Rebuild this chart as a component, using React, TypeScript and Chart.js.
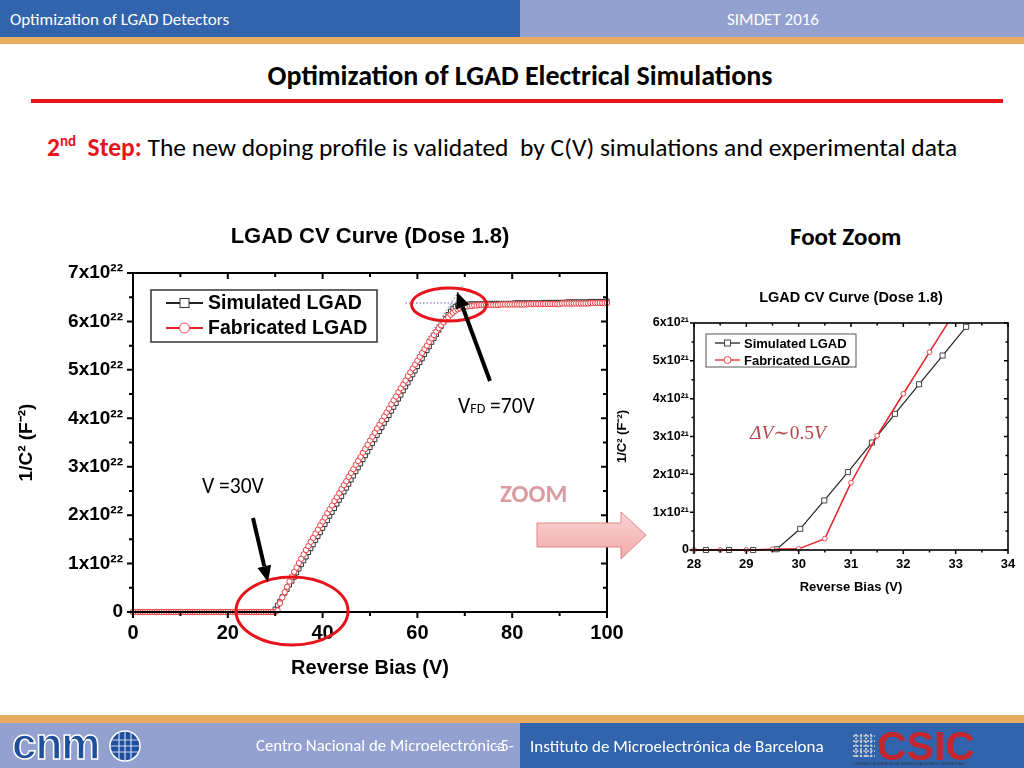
import React, { useEffect, useRef } from 'react';
import { Chart, registerables } from 'chart.js';

Chart.register(...registerables);

// ---------------- Main chart data: 1/C^2 in units of 1e22 F^-2 ----------------
const mainBias = [
  0, 0.5, 1, 1.5, 2, 2.5, 3, 3.5, 4, 4.5,
  5, 5.5, 6, 6.5, 7, 7.5, 8, 8.5, 9, 9.5,
  10, 10.5, 11, 11.5, 12, 12.5, 13, 13.5, 14, 14.5,
  15, 15.5, 16, 16.5, 17, 17.5, 18, 18.5, 19, 19.5,
  20, 20.5, 21, 21.5, 22, 22.5, 23, 23.5, 24, 24.5,
  25, 25.5, 26, 26.5, 27, 27.5, 28, 28.5, 29, 29.5,
  30, 30.5, 31, 31.5, 32, 32.5, 33, 33.5, 34, 34.5,
  35, 35.5, 36, 36.5, 37, 37.5, 38, 38.5, 39, 39.5,
  40, 40.5, 41, 41.5, 42, 42.5, 43, 43.5, 44, 44.5,
  45, 45.5, 46, 46.5, 47, 47.5, 48, 48.5, 49, 49.5,
  50, 50.5, 51, 51.5, 52, 52.5, 53, 53.5, 54, 54.5,
  55, 55.5, 56, 56.5, 57, 57.5, 58, 58.5, 59, 59.5,
  60, 60.5, 61, 61.5, 62, 62.5, 63, 63.5, 64, 64.5,
  65, 65.5, 66, 66.5, 67, 67.5, 68, 68.5, 69, 69.5,
  70, 70.5, 71, 71.5, 72, 72.5, 73, 73.5, 74, 74.5,
  75, 75.5, 76, 76.5, 77, 77.5, 78, 78.5, 79, 79.5,
  80, 80.5, 81, 81.5, 82, 82.5, 83, 83.5, 84, 84.5,
  85, 85.5, 86, 86.5, 87, 87.5, 88, 88.5, 89, 89.5,
  90, 90.5, 91, 91.5, 92, 92.5, 93, 93.5, 94, 94.5,
  95, 95.5, 96, 96.5, 97, 97.5, 98, 98.5, 99, 99.5,
  100,
];

const simulatedMain = [
  0, 0, 0, 0, 0, 0, 0, 0, 0, 0,
  0, 0, 0, 0, 0, 0, 0, 0, 0, 0,
  0, 0, 0, 0, 0, 0, 0, 0, 0, 0,
  0, 0, 0, 0, 0, 0, 0, 0, 0, 0,
  0, 0, 0, 0, 0, 0, 0, 0, 0, 0,
  0, 0, 0, 0, 0, 0, 0, 0, 0, 0,
  0.06, 0.14, 0.22, 0.31, 0.39, 0.47, 0.56, 0.64, 0.72, 0.81,
  0.89, 0.98, 1.06, 1.14, 1.23, 1.31, 1.39, 1.48, 1.56, 1.64,
  1.73, 1.81, 1.89, 1.98, 2.06, 2.14, 2.23, 2.31, 2.39, 2.48,
  2.56, 2.64, 2.73, 2.81, 2.90, 2.98, 3.06, 3.15, 3.23, 3.31,
  3.40, 3.48, 3.56, 3.65, 3.73, 3.81, 3.90, 3.98, 4.06, 4.15,
  4.23, 4.31, 4.40, 4.48, 4.57, 4.65, 4.73, 4.82, 4.90, 4.98,
  5.07, 5.15, 5.23, 5.32, 5.40, 5.48, 5.57, 5.65, 5.73, 5.82,
  5.90, 5.98, 6.06, 6.14, 6.21, 6.27, 6.31, 6.33, 6.34, 6.35,
  6.35, 6.35, 6.36, 6.36, 6.36, 6.36, 6.36, 6.36, 6.36, 6.37,
  6.37, 6.37, 6.37, 6.37, 6.37, 6.37, 6.37, 6.37, 6.37, 6.37,
  6.37, 6.38, 6.38, 6.38, 6.38, 6.38, 6.38, 6.38, 6.38, 6.38,
  6.38, 6.38, 6.38, 6.39, 6.39, 6.39, 6.39, 6.39, 6.39, 6.39,
  6.39, 6.39, 6.39, 6.40, 6.40, 6.40, 6.40, 6.40, 6.40, 6.40,
  6.40, 6.40, 6.40, 6.41, 6.41, 6.41, 6.41, 6.41, 6.41, 6.41,
  6.42,
];

const fabricatedMain = [
  0, 0, 0, 0, 0, 0, 0, 0, 0, 0,
  0, 0, 0, 0, 0, 0, 0, 0, 0, 0,
  0, 0, 0, 0, 0, 0, 0, 0, 0, 0,
  0, 0, 0, 0, 0, 0, 0, 0, 0, 0,
  0, 0, 0, 0, 0, 0, 0, 0, 0, 0,
  0, 0, 0, 0, 0, 0, 0, 0, 0, 0,
  0.00, 0.03, 0.18, 0.30, 0.41, 0.52, 0.63, 0.73, 0.83, 0.92,
  1.01, 1.10, 1.19, 1.28, 1.36, 1.45, 1.53, 1.62, 1.70, 1.79,
  1.87, 1.95, 2.04, 2.12, 2.20, 2.29, 2.37, 2.45, 2.54, 2.62,
  2.70, 2.79, 2.87, 2.95, 3.04, 3.12, 3.20, 3.29, 3.37, 3.45,
  3.54, 3.62, 3.70, 3.79, 3.87, 3.95, 4.04, 4.12, 4.20, 4.29,
  4.37, 4.45, 4.54, 4.62, 4.70, 4.78, 4.87, 4.95, 5.03, 5.11,
  5.19, 5.27, 5.35, 5.43, 5.50, 5.58, 5.65, 5.72, 5.79, 5.86,
  5.92, 5.98, 6.04, 6.09, 6.14, 6.18, 6.22, 6.25, 6.27, 6.29,
  6.30, 6.31, 6.32, 6.32, 6.33, 6.33, 6.34, 6.34, 6.34, 6.34,
  6.34, 6.34, 6.34, 6.34, 6.34, 6.35, 6.35, 6.35, 6.35, 6.35,
  6.35, 6.35, 6.35, 6.35, 6.35, 6.35, 6.35, 6.36, 6.36, 6.36,
  6.36, 6.36, 6.36, 6.36, 6.36, 6.36, 6.36, 6.36, 6.36, 6.36,
  6.36, 6.37, 6.37, 6.37, 6.37, 6.37, 6.37, 6.37, 6.37, 6.37,
  6.37, 6.37, 6.37, 6.38, 6.38, 6.38, 6.38, 6.38, 6.38, 6.38,
  6.38,
];

// Full-depletion construction lines (dotted)
const vfdPlateauBias = [57.5, 69];
const vfdPlateauValue = [6.38, 6.38];
const vfdSlopeBias = [62, 69.5];
const vfdSlopeValue = [5.62, 6.73];

// ---------------- Foot zoom chart data: units of 1e21 F^-2 ----------------
const zoomSimBias = [27.77, 28.23, 28.67, 29.13, 29.58, 30.03, 30.49, 30.94, 31.40, 31.84, 32.30, 32.75, 33.20, 33.65];
const zoomSimValues = [0, 0, 0, 0, 0.02, 0.56, 1.31, 2.06, 2.84, 3.60, 4.38, 5.14, 5.90, 6.66];
const zoomFabBias = [28, 28.5, 29, 29.5, 30, 30.5, 31, 31.5, 32, 32.5, 33];
const zoomFabValues = [0, 0, 0, 0.02, 0.03, 0.30, 1.78, 3.02, 4.13, 5.23, 6.33];

const seriesNames = ['Simulated LGAD', 'Fabricated LGAD'];
const chartTitle = 'LGAD CV Curve (Dose 1.8)';
const xAxisTitle = 'Reverse Bias (V)';
const yAxisTitle = '1/C\u00B2 (F\u207B\u00B2)';

const CHART_FONT = "'Liberation Sans', Arial, sans-serif";
const SLIDE_FONT = "Carlito, Calibri, Lato, 'Open Sans', sans-serif";
const BLACK = '#222222';
const RED = '#e5232a';

const pts = (xs: number[], ys: number[]) => xs.map((x, i) => ({ x, y: ys[i] }));

const frameTicks = {
  id: 'frameTicks',
  afterDatasetsDraw(chart: any, _a: any, o: any) {
    const { ctx, chartArea: a, scales } = chart;
    const x = scales.x;
    const y = scales.y;
    ctx.save();
    ctx.strokeStyle = '#000';
    ctx.lineWidth = o.frameWidth;
    ctx.strokeRect(a.left, a.top, a.right - a.left, a.bottom - a.top);
    ctx.lineWidth = o.tickWidth;
    ctx.beginPath();
    const nx = Math.round((x.max - x.min) / o.xMinor);
    for (let i = 0; i <= nx; i++) {
      const p = x.getPixelForValue(x.min + i * o.xMinor);
      const len = i % o.per === 0 ? o.majorLen : o.minorLen;
      ctx.moveTo(p, a.bottom);
      ctx.lineTo(p, a.bottom + len);
      ctx.moveTo(p, a.top);
      ctx.lineTo(p, a.top + len);
    }
    const ny = Math.round((y.max - y.min) / o.yMinor);
    for (let i = 0; i <= ny; i++) {
      const p = y.getPixelForValue(y.min + i * o.yMinor);
      const len = i % o.per === 0 ? o.majorLen : o.minorLen;
      ctx.moveTo(a.left, p);
      ctx.lineTo(a.left - len, p);
      ctx.moveTo(a.right, p);
      ctx.lineTo(a.right - len, p);
    }
    ctx.stroke();
    ctx.restore();
  },
};

const boxLegend = {
  id: 'boxLegend',
  afterDraw(chart: any, _a: any, o: any) {
    const { ctx, chartArea } = chart;
    const bx = chartArea.left + o.x;
    const by = chartArea.top + o.y;
    ctx.save();
    ctx.fillStyle = '#fff';
    ctx.fillRect(bx, by, o.w, o.h);
    ctx.strokeStyle = o.borderColor;
    ctx.lineWidth = o.borderWidth;
    ctx.strokeRect(bx, by, o.w, o.h);
    const list = chart.data.datasets.filter((d: any) => d.label);
    list.forEach((ds: any, i: number) => {
      const cy = by + o.rowTop + i * o.rowGap;
      ctx.strokeStyle = ds.borderColor;
      ctx.lineWidth = o.lineWidth;
      ctx.beginPath();
      ctx.moveTo(bx + o.lineX0, cy);
      ctx.lineTo(bx + o.lineX1, cy);
      ctx.stroke();
      const mx = bx + (o.lineX0 + o.lineX1) / 2;
      ctx.fillStyle = '#fff';
      ctx.strokeStyle = ds.pointBorderColor;
      ctx.lineWidth = 1;
      if (ds.pointStyle === 'rect') {
        ctx.fillRect(mx - o.square / 2, cy - o.square / 2, o.square, o.square);
        ctx.strokeRect(mx - o.square / 2, cy - o.square / 2, o.square, o.square);
      } else {
        ctx.beginPath();
        ctx.arc(mx, cy, o.circle, 0, Math.PI * 2);
        ctx.fill();
        ctx.stroke();
      }
      ctx.fillStyle = '#000';
      ctx.font = `bold ${o.fontSize}px ${CHART_FONT}`;
      ctx.textBaseline = 'middle';
      ctx.textAlign = 'left';
      ctx.fillText(ds.label, bx + o.textX, cy + 1);
    });
    ctx.restore();
  },
};

const fixX = (h: number) => (s: any) => {
  s.height = h;
  s.paddingLeft = 0;
  s.paddingRight = 0;
};
const fixY = (w: number) => (s: any) => {
  s.width = w;
  s.paddingTop = 0;
  s.paddingBottom = 0;
};

function MainChart() {
  const ref = useRef<HTMLCanvasElement | null>(null);
  useEffect(() => {
    if (!ref.current) return;
    const bold = (size: number) => ({ family: CHART_FONT, size, weight: 'bold' as const });
    const chart = new Chart(ref.current, {
      type: 'line',
      data: {
        datasets: [
          {
            label: seriesNames[0],
            data: pts(mainBias, simulatedMain),
            borderColor: BLACK,
            borderWidth: 1,
            pointStyle: 'rect',
            pointRadius: 3,
            pointBorderColor: '#333',
            pointBackgroundColor: '#fff',
            pointBorderWidth: 1,
            order: 2,
            clip: { left: 3, right: 3, top: 0, bottom: 5 },
          } as any,
          {
            label: seriesNames[1],
            data: pts(mainBias, fabricatedMain),
            borderColor: RED,
            borderWidth: 1,
            pointStyle: 'circle',
            pointRadius: 2.7,
            pointBorderColor: '#ee3b40',
            pointBackgroundColor: '#fff',
            pointBorderWidth: 1,
            order: 1,
            clip: { left: 3, right: 3, top: 0, bottom: 5 },
          } as any,
          {
            label: '',
            data: pts(vfdPlateauBias, vfdPlateauValue),
            borderColor: '#5a5aa8',
            borderWidth: 1,
            borderDash: [1.5, 2],
            pointRadius: 0,
            order: 3,
          },
          {
            label: '',
            data: pts(vfdSlopeBias, vfdSlopeValue),
            borderColor: '#5a5aa8',
            borderWidth: 1,
            borderDash: [1.5, 2],
            pointRadius: 0,
            order: 3,
          },
        ],
      },
      options: {
        animation: false,
        responsive: false,
        events: [],
        layout: { padding: { top: 0, right: 18, left: 0, bottom: 0 } },
        plugins: {
          legend: { display: false },
          tooltip: { enabled: false },
          title: {
            display: true,
            text: chartTitle,
            color: '#000',
            font: bold(22),
            padding: { top: 14, bottom: 22.6 },
            fullSize: false,
          },
          frameTicks: { frameWidth: 2, tickWidth: 2, xMinor: 10, yMinor: 0.5, per: 2, majorLen: 6, minorLen: 4 },
          boxLegend: {
            x: 18, y: 17, w: 226, h: 52, borderColor: '#333', borderWidth: 1.5,
            lineX0: 15, lineX1: 52, textX: 57, rowTop: 13, rowGap: 25,
            lineWidth: 2, square: 9, circle: 5, fontSize: 19.5,
          },
        } as any,
        scales: {
          x: {
            type: 'linear',
            min: 0,
            max: 100,
            ticks: { stepSize: 20, color: '#000', font: bold(20), padding: 9, maxRotation: 0 },
            grid: { display: false, drawTicks: false },
            border: { display: false },
            title: { display: true, text: xAxisTitle, color: '#000', font: bold(20), padding: { top: 0, bottom: 10 } },
            afterFit: fixX(78),
          },
          y: {
            type: 'linear',
            min: 0,
            max: 7,
            ticks: {
              stepSize: 1,
              color: '#000',
              font: bold(19),
              padding: 10,
              callback: (v: any) => (v === 0 ? '0' : `${v}x10\u00B2\u00B2`),
            },
            grid: { display: false, drawTicks: false },
            border: { display: false },
            title: { display: true, text: yAxisTitle, color: '#000', font: bold(19), padding: { top: 15.6, bottom: 0 } },
            afterFit: fixY(133),
          },
        },
      },
      plugins: [frameTicks, boxLegend],
    });
    return () => chart.destroy();
  }, []);
  return (
    <canvas
      ref={ref}
      width={625}
      height={480}
      style={{ position: 'absolute', left: 0, top: 210, width: 625, height: 480 }}
    />
  );
}

function ZoomChart() {
  const ref = useRef<HTMLCanvasElement | null>(null);
  useEffect(() => {
    if (!ref.current) return;
    const bold = (size: number) => ({ family: CHART_FONT, size, weight: 'bold' as const });
    const chart = new Chart(ref.current, {
      type: 'line',
      data: {
        datasets: [
          {
            label: seriesNames[0],
            data: pts(zoomSimBias, zoomSimValues),
            borderColor: BLACK,
            borderWidth: 1.2,
            pointStyle: 'rect',
            pointRadius: 3.6,
            pointBorderColor: '#444',
            pointBackgroundColor: '#fff',
            pointBorderWidth: 1,
            order: 2,
            clip: { left: 5, right: 5, top: 0, bottom: 5 },
          } as any,
          {
            label: seriesNames[1],
            data: pts(zoomFabBias, zoomFabValues),
            borderColor: RED,
            borderWidth: 1.5,
            pointStyle: 'circle',
            pointRadius: 2.4,
            pointBorderColor: '#ee4a4f',
            pointBackgroundColor: '#fff',
            pointBorderWidth: 1,
            order: 1,
            clip: { left: 5, right: 5, top: 0, bottom: 5 },
          } as any,
        ],
      },
      options: {
        animation: false,
        responsive: false,
        events: [],
        layout: { padding: { top: 0, right: 16, left: 0, bottom: 0 } },
        plugins: {
          legend: { display: false },
          tooltip: { enabled: false },
          title: {
            display: true,
            text: chartTitle,
            color: '#000',
            font: bold(14.5),
            padding: { top: 19.3, bottom: 16.3 },
            fullSize: false,
          },
          frameTicks: { frameWidth: 1.6, tickWidth: 1.5, xMinor: 0.5, yMinor: 0.5, per: 2, majorLen: 4, minorLen: 2.5 },
          boxLegend: {
            x: 12, y: 11, w: 150, h: 33, borderColor: '#555', borderWidth: 1,
            lineX0: 9, lineX1: 34, textX: 38, rowTop: 9, rowGap: 17,
            lineWidth: 1.3, square: 6, circle: 3.5, fontSize: 13,
          },
        } as any,
        scales: {
          x: {
            type: 'linear',
            min: 28,
            max: 34,
            ticks: { stepSize: 1, color: '#000', font: bold(13), padding: 7, maxRotation: 0 },
            grid: { display: false, drawTicks: false },
            border: { display: false },
            title: { display: true, text: xAxisTitle, color: '#000', font: bold(13), padding: { top: 0, bottom: 15.2 } },
            afterFit: fixX(60),
          },
          y: {
            type: 'linear',
            min: 0,
            max: 6,
            ticks: {
              stepSize: 1,
              color: '#000',
              font: bold(12.5),
              padding: 5,
              callback: (v: any) => (v === 0 ? '0' : `${v}x10\u00B2\u00B9`),
            },
            grid: { display: false, drawTicks: false },
            border: { display: false },
            title: { display: true, text: yAxisTitle, color: '#000', font: bold(13), padding: { top: 14.2, bottom: 0 } },
            afterFit: fixY(94),
          },
        },
      },
      plugins: [frameTicks, boxLegend],
    });
    return () => chart.destroy();
  }, []);
  return (
    <canvas
      ref={ref}
      width={424}
      height={340}
      style={{ position: 'absolute', left: 600, top: 270, width: 424, height: 340 }}
    />
  );
}

const abs = (s: React.CSSProperties): React.CSSProperties => ({ position: 'absolute', whiteSpace: 'pre', lineHeight: 1, ...s });

export default function App() {
  const BLUE = '#3164ac';
  const PURPLE = '#93a1d0';
  const ORANGE = '#e9ab5f';
  return (
    <div
      style={{
        position: 'absolute', left: 0, top: 0, width: 1024, height: 768, overflow: 'hidden',
        background: '#fff', fontFamily: SLIDE_FONT,
      }}
    >
      {/* header */}
      <div style={abs({ left: 0, top: 0, width: 520, height: 37, background: BLUE })} />
      <div style={abs({ left: 520, top: 0, width: 504, height: 37, background: PURPLE })} />
      <div style={abs({ left: 0, top: 37, width: 1024, height: 7, background: ORANGE })} />
      <div style={abs({ left: 10, top: 10.5, fontSize: 17, color: '#fff' })}>Optimization of LGAD Detectors</div>
      <div style={abs({ left: 727, top: 10.5, fontSize: 17, color: '#fff' })}>SIMDET 2016</div>

      {/* title */}
      <div style={abs({ left: 0, width: 1040, top: 62, fontSize: 28, fontWeight: 700, color: '#000', textAlign: 'center' })}>
        Optimization of LGAD Electrical Simulations
      </div>
      <div style={abs({ left: 31, top: 99, width: 972, height: 4, background: '#e8141c' })} />

      {/* subtitle */}
      <div style={abs({ left: 47, top: 134, fontSize: 25.5, color: '#000' })}>
        <span style={{ color: '#e8141c', fontWeight: 700 }}>
          2<span style={{ fontSize: 15, verticalAlign: 10 }}>nd</span>  Step:
        </span>
        {' The new doping profile is validated  by C(V) simulations and experimental data'}
      </div>

      <div style={abs({ left: 790, top: 223.5, fontSize: 25, fontWeight: 700, color: '#000' })}>Foot Zoom</div>

      <MainChart />
      <ZoomChart />

      {/* annotations */}
      <svg width={1024} height={768} style={{ position: 'absolute', left: 0, top: 0, pointerEvents: 'none' }}>
        <defs>
          <linearGradient id="pinkGrad" x1="0" y1="0" x2="0" y2="1">
            <stop offset="0" stopColor="#fbd3d3" />
            <stop offset="1" stopColor="#f2a9a9" />
          </linearGradient>
        </defs>
        <ellipse cx={449} cy={304.5} rx={37.5} ry={16.5} fill="none" stroke="#e8141c" strokeWidth={3} />
        <ellipse cx={292} cy={611} rx={56} ry={34} fill="none" stroke="#e8141c" strokeWidth={3} />
        <line x1={490} y1={381} x2={462.6} y2={307} stroke="#000" strokeWidth={4} />
        <polygon points="457,292 469.2,304.6 456,309.4" fill="#000" />
        <line x1={253} y1={518} x2={264.3} y2={566.4} stroke="#000" strokeWidth={4} />
        <polygon points="268,582 271.1,564.8 257.5,568" fill="#000" />
        <polygon
          points="537,523 621,523 621,512 646,535 621,559 621,547 537,547"
          fill="url(#pinkGrad)"
          stroke="#e08585"
          strokeWidth={1}
        />
      </svg>

      <div style={abs({ left: 458, top: 396, fontSize: 21.5, color: '#000' })}>
        V<span style={{ fontSize: 14 }}>FD</span> =70V
      </div>
      <div style={abs({ left: 202, top: 476, fontSize: 21.5, color: '#000' })}>V =30V</div>
      <div style={abs({ left: 500, top: 480.5, fontSize: 25, fontWeight: 700, color: '#d99ba0' })}>ZOOM</div>
      <div style={abs({ left: 750, top: 423, fontSize: 19.5, color: '#b5474b', fontFamily: "'Liberation Serif', 'DejaVu Serif', serif" })}>
        <i>ΔV</i>∼0.5<i>V</i>
      </div>

      {/* footer */}
      <div style={abs({ left: 0, top: 715, width: 1024, height: 8, background: ORANGE })} />
      <div style={abs({ left: 0, top: 723, width: 520, height: 45, background: PURPLE })} />
      <div style={abs({ left: 520, top: 723, width: 504, height: 45, background: BLUE })} />
      <div
        style={abs({
          left: 12, top: 722, fontSize: 44, fontWeight: 900, color: '#1f4e9c', fontFamily: CHART_FONT,
          WebkitTextStroke: '1.5px #fff', letterSpacing: -1,
        })}
      >
        cnm
      </div>
      <svg width={34} height={34} style={{ position: 'absolute', left: 108, top: 729 }}>
        <circle cx={17} cy={17} r={15} fill="#1f4e9c" stroke="#fff" strokeWidth={1.5} />
        <path d="M4 11 H30 M2 17 H32 M4 23 H30 M11 4 V30 M17 2 V32 M23 4 V30" stroke="#cfd8ee" strokeWidth={1.2} />
      </svg>
      <div style={abs({ left: 256, top: 737.5, fontSize: 16.8, color: '#fff' })}>Centro Nacional de Microelectrónica</div>
      <div style={abs({ left: 495, top: 737.5, fontSize: 16.8, color: '#fff' })}>-5-</div>
      <div style={abs({ left: 530, top: 737.5, fontSize: 17, color: '#fff' })}>Instituto de Microelectrónica de Barcelona</div>
      <svg width={26} height={28} style={{ position: 'absolute', left: 851, top: 732 }}>
        <path d="M2 4 H24 M2 9 H24 M2 14 H24 M2 19 H24 M2 24 H24 M5 2 V26 M10 2 V26 M15 2 V26 M20 2 V26" stroke="#d6d6d6" strokeWidth={1.6} strokeDasharray="2 1.5" />
      </svg>
      <div style={abs({ left: 877, top: 726, fontSize: 41, fontWeight: 700, color: '#c4262e', fontFamily: CHART_FONT })}>CSIC</div>
      <div style={abs({ left: 852, top: 762, fontSize: 4, color: '#333', fontFamily: CHART_FONT })}>
        CONSEJO SUPERIOR DE INVESTIGACIONES CIENTÍFICAS
      </div>
    </div>
  );
}
